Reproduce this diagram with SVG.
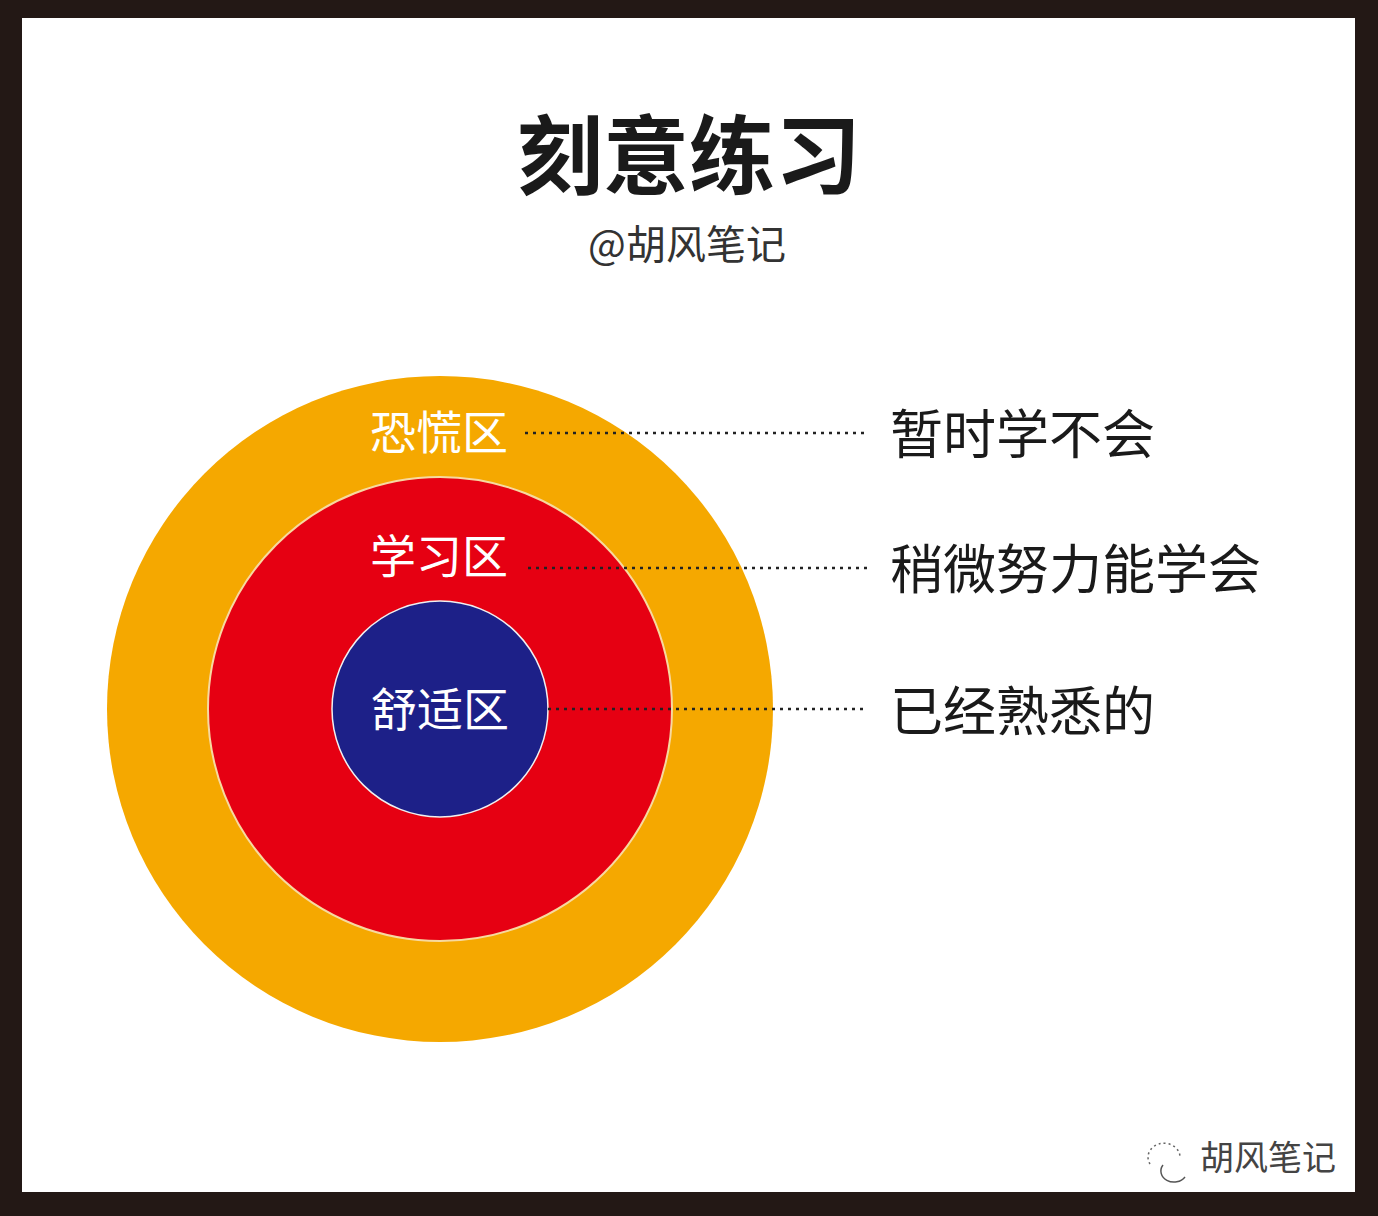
<svg xmlns="http://www.w3.org/2000/svg" width="1378" height="1216" viewBox="0 0 1378 1216">
<style>
.t{font-family:"Noto Sans CJK SC","Liberation Sans",sans-serif}
.lbl{font-size:46px;fill:#fff;text-anchor:middle}
.desc{font-size:53px;fill:#1a1a1a}
.dash{stroke:#222;stroke-width:2.5;stroke-dasharray:3 5;fill:none}
</style>
<rect width="1378" height="1216" fill="#231815"/>
<rect x="22" y="18" width="1333" height="1174" fill="#fff"/>
<text class="t" x="689" y="188" font-size="86" font-weight="bold" text-anchor="middle" fill="#1a1a1a">刻意练习</text>
<text class="t" x="687" y="259" font-size="40" text-anchor="middle" fill="#333">@胡风笔记</text>
<g id="panic"><circle cx="440" cy="709" r="333" fill="#f5a800"/><text class="t lbl" x="439" y="449" fill="#fff8dc">恐慌区</text></g>
<g id="learn"><circle cx="440" cy="709" r="232" fill="#e60012" stroke="#f7d9a0" stroke-width="2"/><text class="t lbl" x="439" y="573">学习区</text></g>
<g id="comfort"><circle cx="440" cy="709" r="108" fill="#1d2088" stroke="#f0f0f0" stroke-width="1.5"/><text class="t lbl" x="440" y="726">舒适区</text></g>
<g id="connectors">
<line class="dash" x1="525" y1="433" x2="868" y2="433"/>
<line class="dash" x1="528" y1="568" x2="868" y2="568"/>
<line class="dash" x1="548" y1="709" x2="868" y2="709"/>
</g>
<g id="d1"><text class="t desc" x="890" y="454">暂时学不会</text></g>
<g id="d2"><text class="t desc" x="890" y="589">稍微努力能学会</text></g>
<g id="d3"><text class="t desc" x="890" y="731">已经熟悉的</text></g>
<g id="wm">
<path d="M1150 1164 a16 14 0 1 1 30 -6" fill="none" stroke="#666" stroke-width="1.5" stroke-dasharray="2 3"/>
<path d="M1163 1165 a13 11 0 1 0 22 12" fill="none" stroke="#555" stroke-width="1.5"/>
<text class="t" x="1200" y="1170" font-size="34" fill="#444">胡风笔记</text>
</g>
</svg>
